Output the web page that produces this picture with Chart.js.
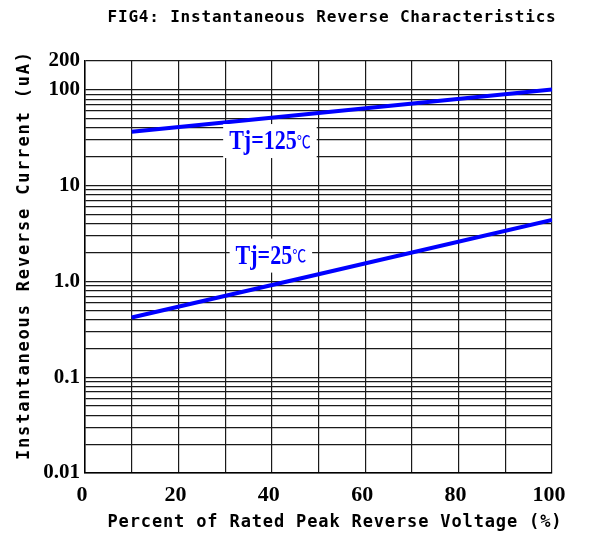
<!DOCTYPE html>
<html>
<head>
<meta charset="utf-8">
<script src="https://cdn.jsdelivr.net/npm/chart.js@4.4.1/dist/chart.umd.min.js"></script>
<style>
html, body { margin: 0; padding: 0; background: #fff; }
</style>
</head>
<body>
<canvas id="chart" width="592" height="537"></canvas>
<script>
// values
const percentVoltage = [10, 50, 100];
const current125 = [36.5, 57.3, 101];
const current25 = [0.42, 1.19, 4.37];

const yGridValues = [
    0.01, 0.02, 0.03, 0.04, 0.05, 0.06, 0.07, 0.08, 0.09,
    0.1, 0.2, 0.3, 0.4, 0.5, 0.6, 0.7, 0.8, 0.9,
    1, 2, 3, 4, 5, 6, 7, 8, 9,
    10, 20, 30, 40, 50, 60, 70, 80, 90,
    100, 200
];
const yLabelValues = [0.01, 0.1, 1, 10, 100, 200];
const yLabelText = ['0.01', '0.1', '1.0', '10', '100', '200'];
const xLabelValues = [0, 20, 40, 60, 80, 100];

const curveNames = ['Tj=125', 'Tj=25'];
const curveUnit = '\u2103';
const curveNameX = [39.6, 39.8];
const curveNameY = [29.2, 1.86];

const chartTitle = 'FIG4: Instantaneous Reverse Characteristics';
const xTitle = 'Percent of Rated Peak Reverse Voltage (%)';
const yTitle = 'Instantaneous Reverse Current (uA)';

const ctx = document.getElementById('chart');

function spacedText(c, text, cx, cy, width, font) {
    c.font = font;
    c.letterSpacing = '0px';
    let natural = c.measureText(text).width;
    let ls = (width - natural) / text.length;
    c.letterSpacing = ls.toFixed(2) + 'px';
    c.textAlign = 'left';
    c.textBaseline = 'middle';
    c.fillText(text, cx - width / 2, cy);
    c.letterSpacing = '0px';
}

const paperText = {
    id: 'paperText',
    beforeDraw(chart) {
        const c = chart.ctx;
        c.save();
        c.fillStyle = '#fff';
        c.fillRect(0, 0, chart.width, chart.height);
        c.restore();
    },
    afterDatasetsDraw(chart) {
        const c = chart.ctx;
        const xs = chart.scales.x, ys = chart.scales.y;
        for (let i = 0; i < curveNames.length; i++) {
            let px = xs.getPixelForValue(curveNameX[i]);
            let py = ys.getPixelForValue(curveNameY[i]);
            c.save();
            c.font = 'bold 22px "Liberation Serif"';
            let w1 = c.measureText(curveNames[i]).width;
            c.font = '14px "Noto Sans CJK SC"';
            let w2 = c.measureText(curveUnit).width;
            let w = w1 + w2;
            c.fillStyle = '#fff';
            c.fillRect(px - w / 2 - 6, py - 17, w + 12, 34);
            // the printed lettering is tall and narrow
            c.translate(px, py);
            c.scale(1, 1.25);
            c.fillStyle = '#0000ff';
            c.textAlign = 'left';
            c.textBaseline = 'middle';
            c.font = 'bold 22px "Liberation Serif"';
            c.fillText(curveNames[i], -w / 2, 1);
            c.font = '14px "Noto Sans CJK SC"';
            c.fillText(curveUnit, -w / 2 + w1, 0);
            c.restore();
        }
    },
    afterDraw(chart) {
        const c = chart.ctx;
        c.save();
        c.fillStyle = '#000';
        spacedText(c, chartTitle, 332, 18, 449, 'bold 16px "DejaVu Sans Mono"');
        spacedText(c, xTitle, 335, 523, 455, 'bold 17px "DejaVu Sans Mono"');
        c.translate(25, 255);
        c.rotate(-Math.PI / 2);
        spacedText(c, yTitle, 0, 0, 410, 'bold 17px "DejaVu Sans Mono"');
        c.restore();
    }
};

let myChart = new Chart(ctx, {
    type: 'line',
    data: {
        datasets: [{
            label: 'Tj=125',
            data: percentVoltage.map((p, i) => ({x: p, y: current125[i]})),
            borderColor: '#0000ff',
            borderWidth: 4,
            pointRadius: 0,
            fill: false
        }, {
            label: 'Tj=25',
            data: percentVoltage.map((p, i) => ({x: p, y: current25[i]})),
            borderColor: '#0000ff',
            borderWidth: 4,
            pointRadius: 0,
            fill: false
        }]
    },
    options: {
        responsive: false,
        animation: false,
        layout: { padding: { top: 61, right: 40, bottom: 0, left: 0 } },
        plugins: {
            legend: { display: false },
            tooltip: { enabled: false },
            title: { display: false }
        },
        scales: {
            x: {
                type: 'linear',
                min: 0,
                max: 100,
                afterFit: s => { s.height = 64; },
                grid: { color: '#1a1a1a', lineWidth: 1.2, drawTicks: false },
                border: { display: true, color: '#000', width: 1.5 },
                ticks: {
                    stepSize: 10,
                    autoSkip: false,
                    maxRotation: 0,
                    padding: 9,
                    labelOffset: -3,
                    color: '#000',
                    font: { family: '"Liberation Serif"', size: 22, weight: 'bold' },
                    callback: v => xLabelValues.includes(v) ? String(v) : ''
                }
            },
            y: {
                type: 'logarithmic',
                min: 0.01,
                max: 200,
                afterFit: s => { s.width = 85; },
                afterBuildTicks: s => { s.ticks = yGridValues.map(v => ({value: v})); },
                grid: { color: '#1a1a1a', lineWidth: 1.2, drawTicks: false },
                border: { display: true, color: '#000', width: 1.5 },
                ticks: {
                    autoSkip: false,
                    padding: 5,
                    color: '#000',
                    font: { family: '"Liberation Serif"', size: 21, weight: 'bold' },
                    callback: v => {
                        let k = yLabelValues.findIndex(t => Math.abs(t - v) / t < 1e-6);
                        return k >= 0 ? yLabelText[k] : '';
                    }
                }
            }
        }
    },
    plugins: [paperText]
});
</script>
</body>
</html>
